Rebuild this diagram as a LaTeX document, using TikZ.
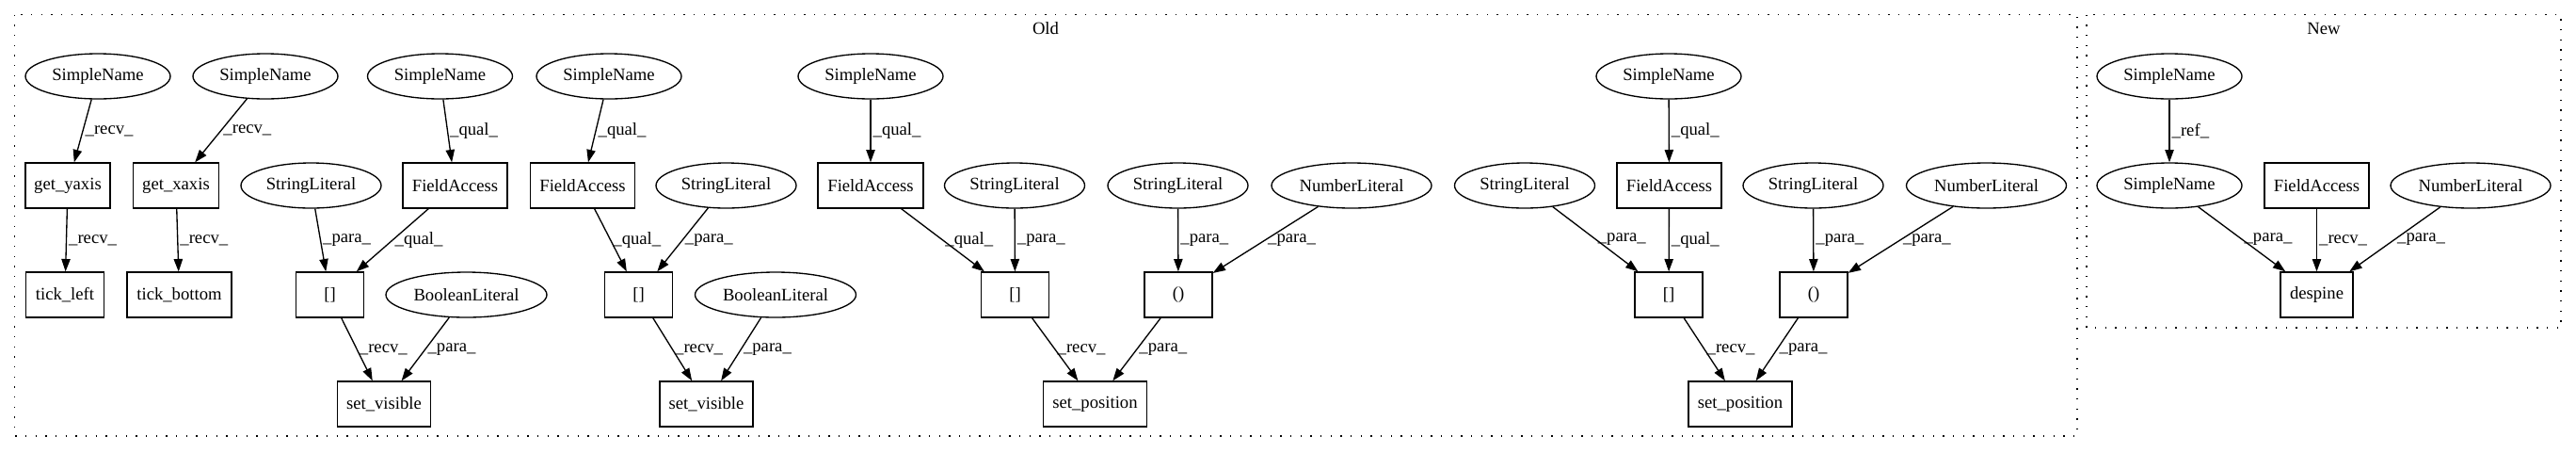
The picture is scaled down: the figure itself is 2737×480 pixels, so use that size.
\documentclass[tikz,border=0pt]{standalone}
\usepackage{fontspec}
\setmainfont{Liberation Serif}
\usetikzlibrary{shapes.geometric,arrows.meta}
\begin{document}
\begin{tikzpicture}[x=0.75pt,y=-0.75pt,
  every node/.style={font=\fontsize{14pt}{16pt}\selectfont, inner sep=0pt},
  ellnode/.style={ellipse, draw, line width=1pt, minimum width=#1, minimum height=36pt},
  rectnode/.style={rectangle, draw, line width=1pt, minimum width=#1, minimum height=36pt},
  conn/.style={draw, line width=1pt, -{Triangle[length=10pt,width=7pt]}},
  lab/.style={midway, anchor=west, inner sep=1.5pt, draw=none},
  cluster/.style={draw, line width=1pt, dash pattern=on 1pt off 7pt}]
\useasboundingbox (0,0) rectangle (2737,480);
% clusters
\draw[cluster] (15.7,15.7) rectangle (2207,463);
\draw[cluster] (2217,15.7) rectangle (2721,348);
\node (oldlab) at (1111,30) {Old};
\node (newlab) at (2469,30) {New};
% Old cluster nodes
\node[ellnode=115.5pt] (sn1) at (104,81) {SimpleName};
\node[ellnode=115.5pt] (sn2) at (282,81) {SimpleName};
\node[ellnode=115.5pt] (sn3) at (467.5,81) {SimpleName};
\node[ellnode=115.5pt] (sn4) at (647,81) {SimpleName};
\node[ellnode=115.5pt] (sn5) at (925,81) {SimpleName};
\node[ellnode=115.5pt] (sn6) at (1773,81) {SimpleName};
\node[rectnode=67.5pt] (gy) at (72,197) {get\_yaxis};
\node[rectnode=68.25pt] (gx) at (187,197) {get\_xaxis};
\node[ellnode=111.75pt] (sl1) at (330.5,197) {StringLiteral};
\node[rectnode=83.25pt] (fa1) at (483.5,197) {FieldAccess};
\node[rectnode=83.25pt] (fa2) at (619,197) {FieldAccess};
\node[ellnode=111.75pt] (sl2) at (771.5,197) {StringLiteral};
\node[rectnode=84pt] (fa3) at (925,197) {FieldAccess};
\node[ellnode=111.75pt] (sl3) at (1078,197) {StringLiteral};
\node[ellnode=111.75pt] (sl4) at (1251.5,197) {StringLiteral};
\node[ellnode=127.5pt] (nl1) at (1436,197) {NumberLiteral};
\node[ellnode=111.75pt] (sl5) at (1620,197) {StringLiteral};
\node[rectnode=83.25pt] (fa4) at (1773.5,197) {FieldAccess};
\node[ellnode=111.75pt] (sl6) at (1926.5,197) {StringLiteral};
\node[ellnode=127.5pt] (nl2) at (2110.5,197) {NumberLiteral};
\node[rectnode=62.25pt] (tl) at (69,313) {tick\_left};
\node[rectnode=83.25pt] (tb) at (190.5,313) {tick\_bottom};
\node[rectnode=54pt] (ix1) at (350.5,313) {[]};
\node[ellnode=128.25pt] (bl1) at (495.5,313) {BooleanLiteral};
\node[rectnode=54pt] (ix2) at (678.5,313) {[]};
\node[ellnode=128.25pt] (bl2) at (824,313) {BooleanLiteral};
\node[rectnode=54pt] (ix3) at (1078.5,313) {[]};
\node[rectnode=54pt] (pa1) at (1252,313) {()};
\node[rectnode=54pt] (ix4) at (1773,313) {[]};
\node[rectnode=54pt] (pa2) at (1927,313) {()};
\node[rectnode=74.25pt] (sv1) at (408,429) {set\_visible};
\node[rectnode=74.25pt] (sv2) at (750.5,429) {set\_visible};
\node[rectnode=82.5pt] (sp1) at (1163.5,429) {set\_position};
\node[rectnode=82.5pt] (sp2) at (1849,429) {set\_position};
% New cluster nodes
\node[ellnode=115.5pt] (sn7) at (2305,81) {SimpleName};
\node[ellnode=115.5pt] (sn8) at (2305,197) {SimpleName};
\node[rectnode=83.25pt] (fa5) at (2461.5,197) {FieldAccess};
\node[ellnode=127.5pt] (nl3) at (2625,197) {NumberLiteral};
\node[rectnode=57.75pt] (ds) at (2461.5,313) {despine};
% edges
\draw[conn] (sn1) -- node[lab]{\_recv\_} (gy);
\draw[conn] (sn2) -- node[lab]{\_recv\_} (gx);
\draw[conn] (gy) -- node[lab]{\_recv\_} (tl);
\draw[conn] (gx) -- node[lab]{\_recv\_} (tb);
\draw[conn] (sn3) -- node[lab]{\_qual\_} (fa1);
\draw[conn] (sn4) -- node[lab]{\_qual\_} (fa2);
\draw[conn] (sl1) -- node[lab]{\_para\_} (ix1);
\draw[conn] (fa1) -- node[lab]{\_qual\_} (ix1);
\draw[conn] (ix1) -- node[lab]{\_recv\_} (sv1);
\draw[conn] (bl1) -- node[lab]{\_para\_} (sv1);
\draw[conn] (fa2) -- node[lab]{\_qual\_} (ix2);
\draw[conn] (sl2) -- node[lab]{\_para\_} (ix2);
\draw[conn] (ix2) -- node[lab]{\_recv\_} (sv2);
\draw[conn] (bl2) -- node[lab]{\_para\_} (sv2);
\draw[conn] (sn5) -- node[lab]{\_qual\_} (fa3);
\draw[conn] (fa3) -- node[lab]{\_qual\_} (ix3);
\draw[conn] (sl3) -- node[lab]{\_para\_} (ix3);
\draw[conn] (sl4) -- node[lab]{\_para\_} (pa1);
\draw[conn] (nl1) -- node[lab]{\_para\_} (pa1);
\draw[conn] (ix3) -- node[lab]{\_recv\_} (sp1);
\draw[conn] (pa1) -- node[lab]{\_para\_} (sp1);
\draw[conn] (sn6) -- node[lab]{\_qual\_} (fa4);
\draw[conn] (sl5) -- node[lab]{\_para\_} (ix4);
\draw[conn] (fa4) -- node[lab]{\_qual\_} (ix4);
\draw[conn] (sl6) -- node[lab]{\_para\_} (pa2);
\draw[conn] (nl2) -- node[lab]{\_para\_} (pa2);
\draw[conn] (ix4) -- node[lab]{\_recv\_} (sp2);
\draw[conn] (pa2) -- node[lab]{\_para\_} (sp2);
\draw[conn] (sn7) -- node[lab]{\_ref\_} (sn8);
\draw[conn] (sn8) -- node[lab]{\_para\_} (ds);
\draw[conn] (fa5) -- node[lab]{\_recv\_} (ds);
\draw[conn] (nl3) -- node[lab]{\_para\_} (ds);
\end{tikzpicture}
\end{document}
